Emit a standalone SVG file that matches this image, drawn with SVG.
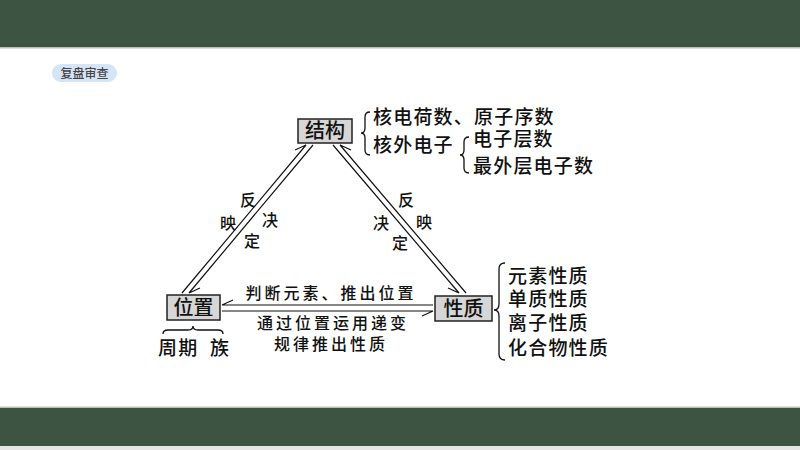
<svg xmlns="http://www.w3.org/2000/svg" width="800" height="450" viewBox="0 0 800 450">
<style>
.t{font-family:"Noto Sans CJK SC","Noto Sans",sans-serif;fill:#111;font-weight:500;}
.big{font-size:19px;letter-spacing:1.2px;}
.mid{font-size:16px;letter-spacing:3px;text-anchor:middle;}
.lab{font-size:16px;text-anchor:middle;}
.box{fill:#d6d6d6;stroke:#222;stroke-width:1.5;}
.bt{font-size:20px;text-anchor:middle;}
.ln{stroke:#111;stroke-width:1.2;fill:none;}
.br{stroke:#111;stroke-width:1.3;fill:none;}
</style>
<rect x="0" y="0" width="800" height="450" fill="#ffffff"/>
<rect x="0" y="0" width="800" height="47" fill="#3d5442"/>
<rect x="0" y="47" width="800" height="1.5" fill="#b9c0b3"/>
<rect x="0" y="406.5" width="800" height="1.5" fill="#b9c0b3"/>
<rect x="0" y="408" width="800" height="38" fill="#3d5442"/>
<rect x="0" y="446" width="800" height="4" fill="#e6e6e6"/>

<g id="badge">
<rect x="52" y="64" width="65" height="18" rx="9" fill="#d6e4f7"/>
<text class="t" x="84.5" y="77.5" font-size="12" text-anchor="middle" style="fill:#444">复盘审查</text>
</g>

<g id="connectors">
<path class="ln" d="M306,145 L182,293 M306,145 L295,150"/>
<path class="ln" d="M313,145 L189,293 M189,293 L200,288"/>
<path class="ln" d="M340,145 L466,293 M340,145 L351,150"/>
<path class="ln" d="M333,145 L459,293 M459,293 L448,288"/>
<path class="ln" d="M222,305 L433,305 M222,305 L233,300"/>
<path class="ln" d="M222,311 L433,311 M433,311 L422,316"/>
</g>

<g id="edge-labels">
<text class="t lab" x="248" y="205.5">反</text>
<text class="t lab" x="228" y="228.5">映</text>
<text class="t lab" x="270" y="225.5">决</text>
<text class="t lab" x="252" y="246.5">定</text>
<text class="t lab" x="406" y="205.5">反</text>
<text class="t lab" x="381" y="228.5">决</text>
<text class="t lab" x="424" y="227.5">映</text>
<text class="t lab" x="400" y="248.5">定</text>
<text class="t mid" x="331" y="299">判断元素、推出位置</text>
<text class="t mid" x="333" y="329">通过位置运用递变</text>
<text class="t mid" x="331" y="350">规律推出性质</text>
</g>

<g id="node-jiegou">
<rect class="box" x="298" y="119" width="54" height="24"/>
<text class="t bt" x="325" y="138">结构</text>
</g>

<g id="node-weizhi">
<rect class="box" x="167" y="295" width="53" height="25"/>
<text class="t bt" x="193.5" y="314.5">位置</text>
</g>

<g id="node-xingzhi">
<rect class="box" x="435" y="296" width="57" height="25"/>
<text class="t bt" x="463.5" y="315.5">性质</text>
</g>

<g id="structure-detail">
<path class="br" d="M370,112 Q365,112 365,117 L365,128 Q365,133 361,133 Q365,133 365,138 L365,150 Q365,155 370,155"/>
<text class="t big" x="373" y="124">核电荷数、原子序数</text>
<text class="t big" x="373" y="152">核外电子</text>
<path class="br" d="M469,137 Q464,137 464,142 L464,150 Q464,155 460,155 Q464,155 464,160 L464,168 Q464,173 469,173"/>
<text class="t big" x="473" y="146">电子层数</text>
<text class="t big" x="473" y="173">最外层电子数</text>
</g>

<g id="property-detail">
<path class="br" d="M505,263 Q499,263 499,269 L499,304 Q499,310 494,310 Q499,310 499,316 L499,354 Q499,360 505,360"/>
<text class="t big" x="508" y="283">元素性质</text>
<text class="t big" x="508" y="306">单质性质</text>
<text class="t big" x="508" y="330">离子性质</text>
<text class="t big" x="508" y="355">化合物性质</text>
</g>

<g id="position-detail">
<path class="br" d="M163,334 Q163,330 168,330 L188,330 Q193,330 193,326 Q193,330 198,330 L218,330 Q223,330 223,334"/>
<text class="t big" x="158" y="355">周期</text>
<text class="t big" x="210" y="355">族</text>
</g>
</svg>
